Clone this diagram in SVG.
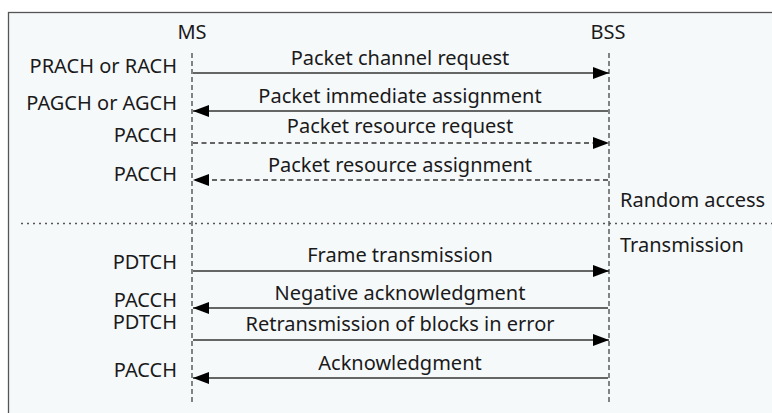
<svg xmlns="http://www.w3.org/2000/svg" width="772" height="413" viewBox="0 0 772 413">
<style>
text{font-family:"Noto Sans","Open Sans","DejaVu Sans",sans-serif;font-size:20px;fill:#1a1a1a}
.c{text-anchor:middle}
.r{text-anchor:end}
.life{stroke:#444;stroke-width:1.3;stroke-dasharray:5,3;fill:none}
.msg{stroke:#333;stroke-width:1.5;fill:none}
.dash{stroke-dasharray:5,3.5}
.sep{stroke:#555;stroke-width:1.3;stroke-dasharray:2,4;fill:none}
</style>
<defs>
<marker id="ah" viewBox="0 0 16 12" refX="16" refY="6" markerWidth="16" markerHeight="12" markerUnits="userSpaceOnUse" orient="auto">
<path d="M0,0 L16,6 L0,12 Z" fill="#000"/>
</marker>
</defs>
<rect x="8.5" y="12.5" width="800" height="420" fill="#f6f9fa" stroke="#555" stroke-width="1.3"/>
<g id="ms">
<text class="c" x="192" y="39">MS</text>
<line class="life" x1="192" y1="53" x2="192" y2="402"/>
</g>
<g id="bss">
<text class="c" x="608" y="39">BSS</text>
<line class="life" x1="609" y1="53" x2="609" y2="402"/>
</g>
<g id="channels">
<text class="r" x="177" y="73">PRACH or RACH</text>
<text class="r" x="177" y="110">PAGCH or AGCH</text>
<text class="r" x="177" y="142">PACCH</text>
<text class="r" x="177" y="181">PACCH</text>
<text class="r" x="177" y="269">PDTCH</text>
<text class="r" x="177" y="307">PACCH</text>
<text class="r" x="177" y="329">PDTCH</text>
<text class="r" x="177" y="377">PACCH</text>
</g>
<g id="phases">
<text x="620" y="207">Random access</text>
<line class="sep" x1="21" y1="223.5" x2="772" y2="223.5"/>
<text x="620" y="252">Transmission</text>
</g>
<g id="connectors">
<line class="msg" x1="193" y1="73" x2="609" y2="73" marker-end="url(#ah)"/>
<line class="msg" x1="608" y1="111" x2="193" y2="111" marker-end="url(#ah)"/>
<line class="msg dash" x1="193" y1="143" x2="609" y2="143" marker-end="url(#ah)"/>
<line class="msg dash" x1="608" y1="180" x2="193" y2="180" marker-end="url(#ah)"/>
<line class="msg" x1="193" y1="271" x2="609" y2="271" marker-end="url(#ah)"/>
<line class="msg" x1="608" y1="308" x2="193" y2="308" marker-end="url(#ah)"/>
<line class="msg" x1="193" y1="340" x2="609" y2="340" marker-end="url(#ah)"/>
<line class="msg" x1="608" y1="378" x2="193" y2="378" marker-end="url(#ah)"/>
</g>
<g id="labels">
<text class="c" x="400" y="65">Packet channel request</text>
<text class="c" x="400" y="103">Packet immediate assignment</text>
<text class="c" x="400" y="133">Packet resource request</text>
<text class="c" x="400" y="172">Packet resource assignment</text>
<text class="c" x="400" y="262">Frame transmission</text>
<text class="c" x="400" y="300">Negative acknowledgment</text>
<text class="c" x="400" y="331">Retransmission of blocks in error</text>
<text class="c" x="400" y="370">Acknowledgment</text>
</g>
</svg>
